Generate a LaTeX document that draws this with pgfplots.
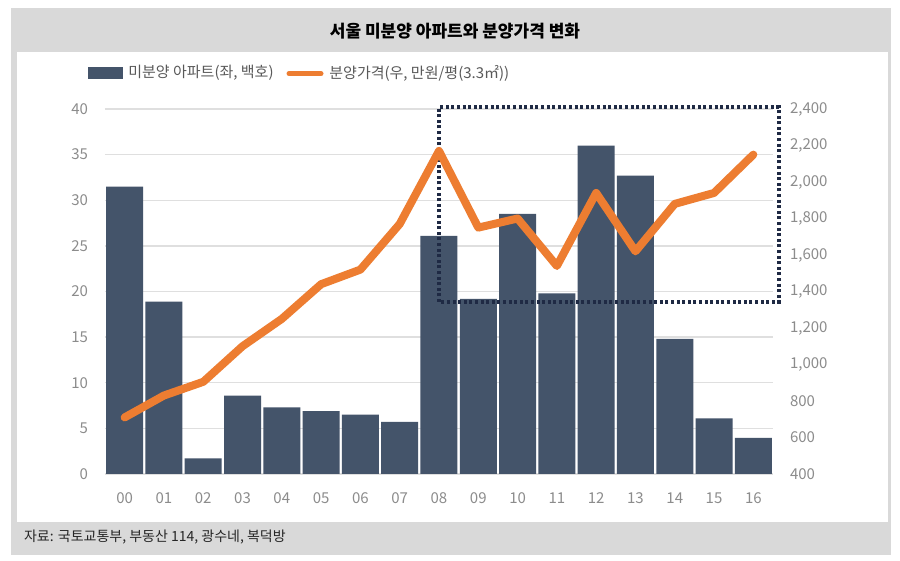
\documentclass[border=0pt]{standalone}
\usepackage{fontspec}
\setmainfont{Noto Sans CJK KR}
\usepackage{pgfplots}
\usepackage{pgfplotstable}
\pgfplotsset{compat=1.18}

\definecolor{barblue}{HTML}{44546A}
\definecolor{lineorange}{HTML}{ED7D31}
\definecolor{framegray}{HTML}{D9D9D9}
\definecolor{gridgray}{HTML}{DFDFDF}
\definecolor{ticktext}{HTML}{8C8C8C}
\definecolor{legtext}{HTML}{595959}
\definecolor{boxnavy}{HTML}{1F2A44}

% year index, unsold units (left, 100 units), price (right, 10k won / pyeong)
\pgfplotstableread{
x  units  price
0  31.5   710
1  18.9   830
2  1.7    905
3  8.6    1100
4  7.3    1250
5  6.9    1440
6  6.5    1520
7  5.7    1770
8  26.1   2170
9  19.2   1750
10 28.5   1800
11 19.8   1540
12 36.0   1940
13 32.7   1620
14 14.8   1880
15 6.1    1940
16 3.95   2150
}\seouldata

\pgfplotsset{
  base/.style={
    width=334pt, height=182.5pt, scale only axis,
    xmin=-0.5, xmax=16.5,
    axis line style={draw=none},
    tick style={draw=none},
    tick label style={font=\fontsize{7.5}{9}\selectfont, text=ticktext},
    /pgf/number format/assume math mode=true,
  }
}

\begin{document}
\begin{tikzpicture}
  % page and frame
  \fill[white] (-52.5pt,-43.5pt) rectangle (397.5pt,237pt);
  \path[use as bounding box] (-52.5pt,-43.5pt) rectangle (397.5pt,237pt);
  \fill[framegray] (-47pt,-40.5pt) rectangle (393pt,233pt);
  \fill[white] (-44pt,-24pt) rectangle (391.5pt,211pt);

  \node[font=\fontsize{8.5}{10}\selectfont\bfseries, text=black] at (175pt,221.5pt)
    {서울 미분양 아파트와 분양가격 변화};
  \node[anchor=west, font=\fontsize{7}{8}\selectfont, text=black!85] at (-44pt,-31.5pt)
    {자료: 국토교통부, 부동산 114, 광수네, 복덕방};

  % legend
  \fill[barblue] (-8.5pt,197.3pt) rectangle (9pt,203.7pt);
  \node[anchor=west, inner sep=0pt, font=\fontsize{7.5}{9}\selectfont, text=legtext] at (11.5pt,200.5pt)
    {미분양 아파트(좌, 백호)};
  \draw[lineorange, line width=2.5pt, line cap=round] (92pt,200.2pt) -- (108pt,200.2pt);
  \node[anchor=west, inner sep=0pt, font=\fontsize{7.5}{9}\selectfont, text=legtext] at (112pt,200.5pt)
    {분양가격(우, 만원/평(3.3㎡))};

  \begin{axis}[
    base,
    ymin=0, ymax=40,
    ytick={0,5,...,40},
    ymajorgrids,
    grid style={gridgray, line width=0.7pt},
    xtick={0,...,16},
    xticklabels={00,01,02,03,04,05,06,07,08,09,10,11,12,13,14,15,16},
    xticklabel style={yshift=-6pt},
    yticklabel style={xshift=-5pt},
    clip=false,
  ]
    \addplot[ybar, bar width=18.5pt, fill=barblue, draw=none]
      table[x=x, y=units] {\seouldata};
    \draw[boxnavy, line width=1.8pt, dash pattern=on 1.5pt off 1.3pt]
      (axis cs:8,18.85) rectangle (axis cs:16.65,40.2);
  \end{axis}

  \begin{axis}[
    base,
    ymin=400, ymax=2400,
    ytick={400,600,...,2400},
    axis y line*=right,
    axis x line=none,
    yticklabel style={xshift=5pt, /pgf/number format/1000 sep={,}},
  ]
    \addplot[lineorange, line width=4pt, line join=round, line cap=round]
      table[x=x, y=price] {\seouldata};
  \end{axis}
\end{tikzpicture}
\end{document}
